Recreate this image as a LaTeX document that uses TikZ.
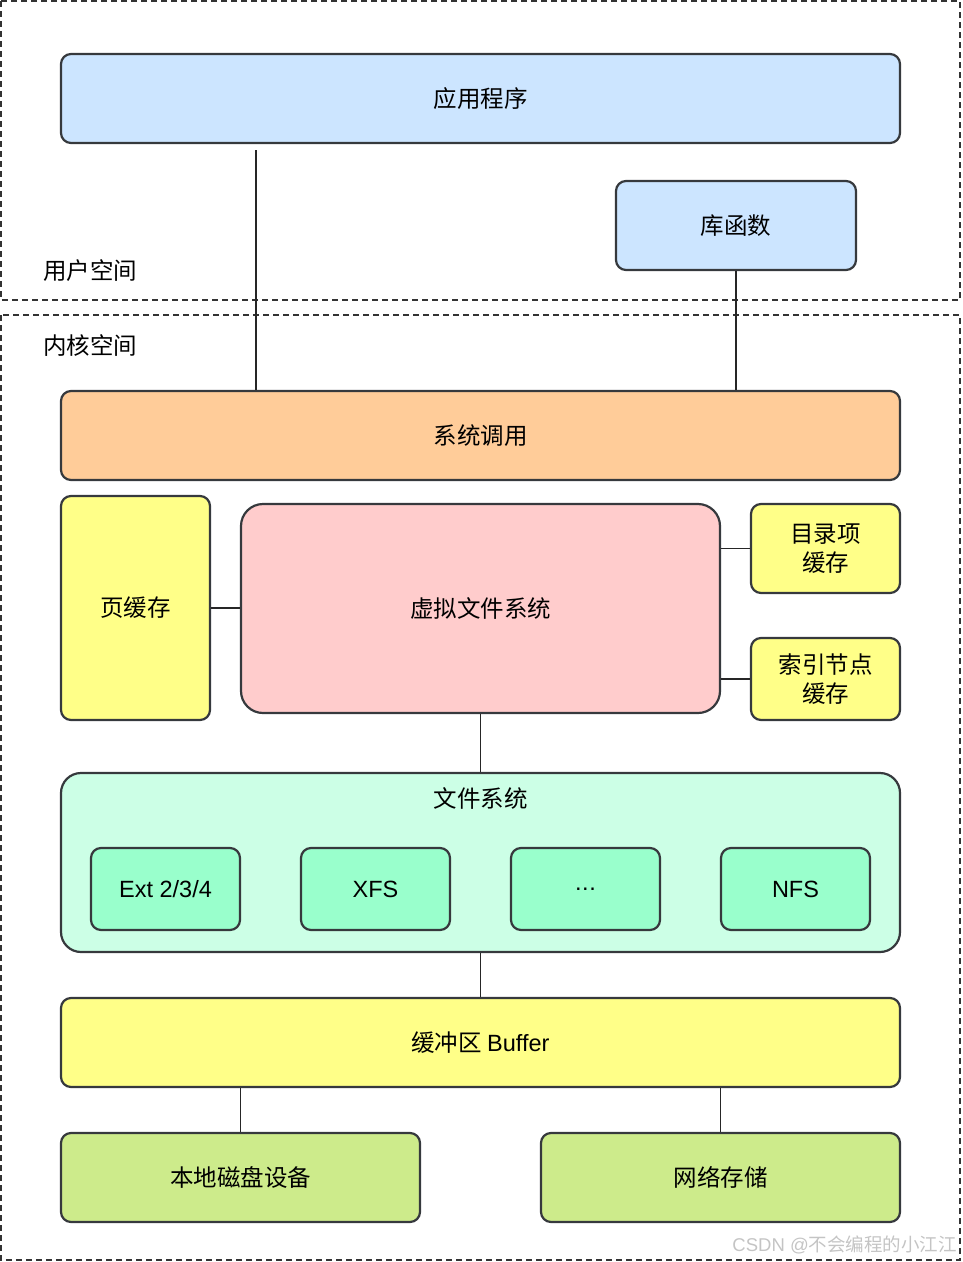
\documentclass[tikz,border=0pt]{standalone}
\usepackage{fontspec}
\setmainfont{Noto Sans CJK SC}
\newfontfamily\latinf{Liberation Sans}
\usetikzlibrary{calc}
\definecolor{strokec}{HTML}{36393D}
\definecolor{cblue}{HTML}{CCE5FF}
\definecolor{corange}{HTML}{FFCC99}
\definecolor{cyellow}{HTML}{FFFF88}
\definecolor{cpink}{HTML}{FFCCCC}
\definecolor{cmintl}{HTML}{CCFFE6}
\definecolor{cmint}{HTML}{99FFCC}
\definecolor{cgreen}{HTML}{CDEB8B}
\definecolor{wm}{HTML}{C4C4C4}
\tikzset{
  box/.style={draw=strokec, line width=2.2pt, rounded corners=10pt, inner sep=0pt, align=center, font=\fontsize{23.5}{28}\selectfont, text=black},
  latinbox/.style={box, font=\latinf\fontsize{23.5}{28}\selectfont},
  region/.style={draw=black!80, line width=1.3pt, dash pattern=on 6pt off 4pt},
  conn/.style={draw=black!85, line width=1.1pt},
  lbl/.style={font=\fontsize{23.5}{28}\selectfont, inner sep=0pt}
}
\begin{document}
\begin{tikzpicture}[x=1pt,y=-1pt]
\useasboundingbox (0,0) rectangle (962,1262);
% regions
\draw[region] (1,1) rectangle (960,300);
\draw[region] (1,315) rectangle (960,1260);
\node[lbl, anchor=west] (userlbl) at (43,271) {用户空间};
\node[lbl, anchor=west] (kernlbl) at (43,346) {内核空间};
% boxes
\node[box, fill=cblue, minimum width=839pt, minimum height=89pt] (app) at (480.5,98.5) {应用程序};
\node[box, fill=cblue, minimum width=240pt, minimum height=89pt] (lib) at (736,225.5) {库函数};
\node[box, fill=corange, minimum width=839pt, minimum height=89pt] (sys) at (480.5,435.5) {系统调用};
\node[box, fill=cyellow, minimum width=149pt, minimum height=224pt] (page) at (135.5,608) {页缓存};
\node[box, fill=cpink, rounded corners=22pt, minimum width=479pt, minimum height=209pt] (vfs) at (480.5,608.5) {虚拟文件系统};
\node[box, fill=cyellow, minimum width=149pt, minimum height=89pt, font=\fontsize{23.5}{29}\selectfont] (dentry) at (825.5,548.5) {目录项\\缓存};
\node[box, fill=cyellow, minimum width=149pt, minimum height=82pt, font=\fontsize{23.5}{29}\selectfont] (inode) at (825.5,679) {索引节点\\缓存};
\node[box, fill=cmintl, rounded corners=20pt, minimum width=839pt, minimum height=179pt] (fs) at (480.5,862.5) {};
\node[lbl] (fslabel) at (480.5,798) {文件系统};
\node[latinbox, fill=cmint, minimum width=149pt, minimum height=82pt] (ext) at (165.5,889) {Ext 2/3/4};
\node[latinbox, fill=cmint, minimum width=149pt, minimum height=82pt] (xfs) at (375.5,889) {XFS};
\node[latinbox, fill=cmint, minimum width=149pt, minimum height=82pt] (dots) at (585.5,889) {.\kern0.5pt.\kern0.5pt.};
\node[latinbox, fill=cmint, minimum width=149pt, minimum height=82pt] (nfs) at (795.5,889) {NFS};
\node[box, fill=cyellow, minimum width=839pt, minimum height=89pt] (buf) at (480.5,1042.5) {缓冲区 {\latinf\fontsize{23.5}{28}\selectfont Buffer}};
\node[box, fill=cgreen, minimum width=359pt, minimum height=89pt] (disk) at (240.5,1177.5) {本地磁盘设备};
\node[box, fill=cgreen, minimum width=359pt, minimum height=89pt] (net) at (720.5,1177.5) {网络存储};
% connectors
\coordinate (appout) at (256,150);
\draw[conn] (appout) -- (appout |- sys.north);
\draw[conn] (lib.south) -- (lib.south |- sys.north);
\draw[conn] (page.east) -- (vfs.west |- page.east);
\draw[conn] (vfs.east |- dentry.west) -- (dentry.west);
\draw[conn] (vfs.east |- inode.west) -- (inode.west);
\draw[conn] (vfs.south) -- (fs.north);
\draw[conn] (fs.south) -- (buf.north);
\draw[conn] (buf.south -| disk.north) -- (disk.north);
\draw[conn] (buf.south -| net.north) -- (net.north);
% watermark
\node[anchor=east, text=wm, font=\fontsize{18.5}{22}\selectfont, inner sep=0pt] (wmark) at (957,1245) {{\latinf CSDN @}不会编程的小江江};
\end{tikzpicture}
\end{document}
